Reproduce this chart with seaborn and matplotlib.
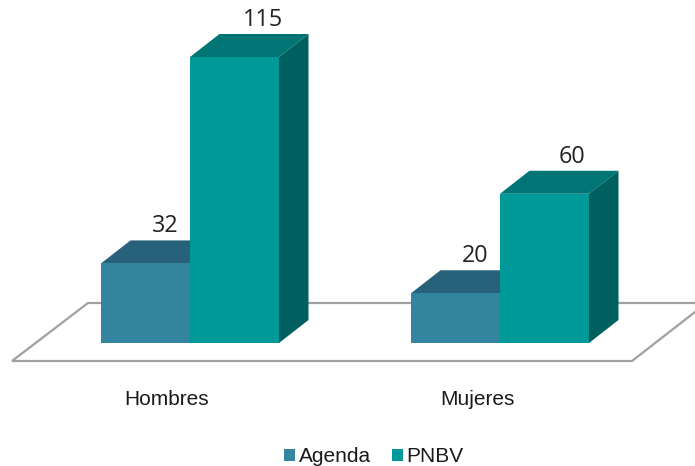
import matplotlib
matplotlib.use("Agg")
import matplotlib.pyplot as plt
import pandas as pd
import seaborn as sns
from matplotlib.patches import Polygon
from matplotlib.transforms import ScaledTranslation

# data
categories = ["Hombres", "Mujeres"]
series = ["Agenda", "PNBV"]
agenda = [32, 20]
pnbv = [115, 60]

front_colors = {"Agenda": "#33849E", "PNBV": "#009999"}
top_colors = {"Agenda": "#27627A", "PNBV": "#007575"}
side_colors = {"Agenda": "#27627A", "PNBV": "#006060"}
label_shift = {"Agenda": 20, "PNBV": 28}

df = pd.DataFrame({
    "grupo": categories * 2,
    "serie": [series[0]] * 2 + [series[1]] * 2,
    "valor": agenda + pnbv,
})

sns.set_style("white")
plt.rcParams["font.family"] = ["Liberation Sans", "DejaVu Sans"]

W, H = 695, 466
BASE = 343
PX_PER_CAT = 310
PX_PER_UNIT = 2.487

fig = plt.figure(figsize=(W / 100, H / 100), dpi=100)
ax = fig.add_axes([0, (H - BASE) / H, 1, BASE / H])

sns.barplot(data=df, x="grupo", y="valor", hue="serie", palette=front_colors,
            width=178 / PX_PER_CAT, gap=0, saturation=1, linewidth=0, zorder=3, ax=ax)

ax.set_xlim(-190 / PX_PER_CAT, (W - 190) / PX_PER_CAT)
ax.set_ylim(0, BASE / PX_PER_UNIT)
ax.set_xlabel("")
ax.set_ylabel("")
ax.set_yticks([])
ax.tick_params(axis="x", length=0, pad=33.5, labelsize=15, labelcolor="#1a1a1a")
sns.despine(ax=ax, left=True, bottom=True, top=True, right=True)
ax.patch.set_alpha(0)

# category labels sit left of the group centre in the original
for lab in ax.get_xticklabels():
    lab.set_transform(lab.get_transform() + ScaledTranslation(-23 / 100, 0, fig.dpi_scale_trans))


def to_data(px, py):
    return (px - 190) / PX_PER_CAT, (BASE - py) / PX_PER_UNIT


# floor of the 3d chart
floor = [(695, 303), (88, 303), (12, 361), (632, 361), (695, 312)]
fx, fy = zip(*[to_data(*p) for p in floor])
ax.plot(fx, fy, color="#A0A0A0", lw=1.6, zorder=1, clip_on=False, solid_joinstyle="miter")

# fake depth for the bars
dx = 29.5 / PX_PER_CAT
dy = 23 / PX_PER_UNIT
for name, cont in zip(series, ax.containers):
    for bar in cont:
        x0 = bar.get_x()
        x1 = x0 + bar.get_width()
        h = bar.get_height()
        ax.add_patch(Polygon([(x0, h), (x1, h), (x1 + dx, h + dy), (x0 + dx, h + dy)],
                             fc=top_colors[name], ec="none", zorder=2, clip_on=False))
        ax.add_patch(Polygon([(x1, 0), (x1 + dx, dy), (x1 + dx, h + dy), (x1, h)],
                             fc=side_colors[name], ec="none", zorder=2, clip_on=False))
        ax.annotate(f"{h:.0f}", (x0 + bar.get_width() / 2, h),
                    xytext=(label_shift[name] * 0.72, 37 * 0.72), textcoords="offset points",
                    ha="center", va="center", fontsize=16.8, color="#222222",
                    family="Open Sans", zorder=4)

handles, labels = ax.get_legend_handles_labels()
ax.legend(handles, labels, ncol=2, frameon=False, fontsize=15, labelcolor="#1a1a1a",
          handlelength=0.53, handleheight=0.53, handletextpad=0.2, columnspacing=0.96,
          borderpad=0, loc="center", bbox_to_anchor=(374 / W, (H - 457) / H),
          bbox_transform=fig.transFigure)

fig.savefig("out.png", dpi=100, facecolor="white")
